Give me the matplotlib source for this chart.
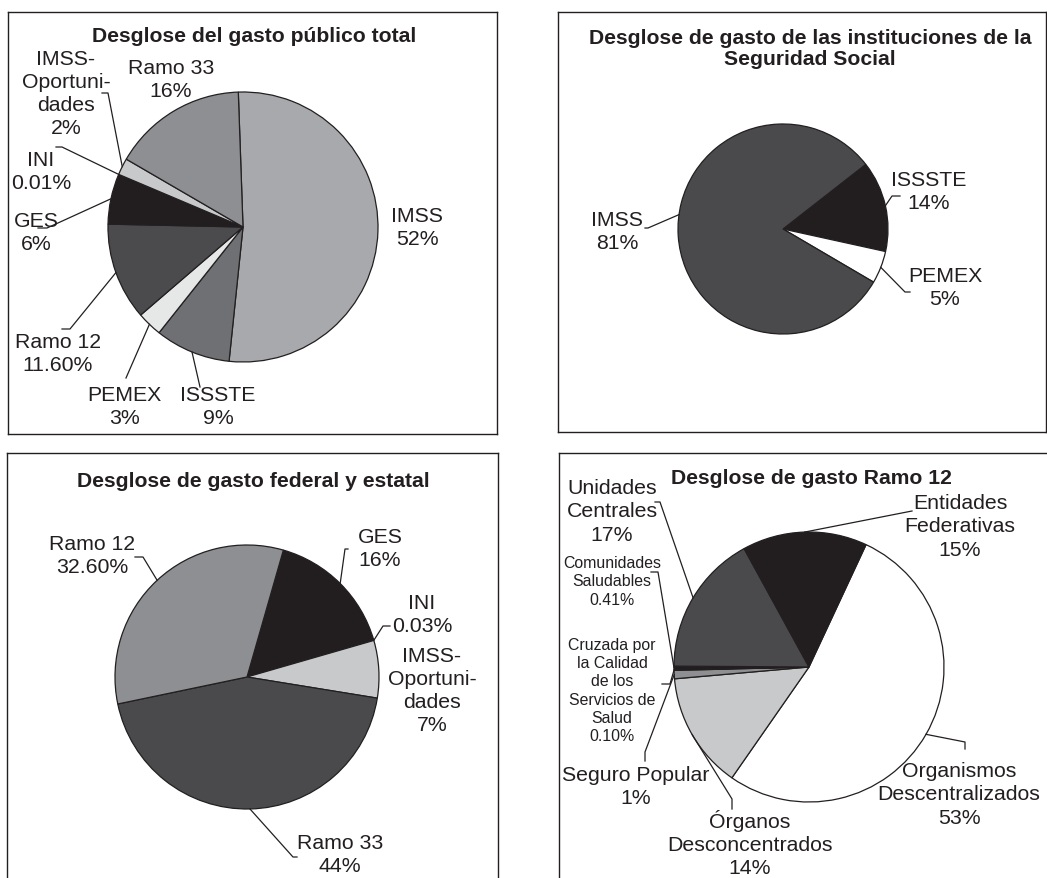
import matplotlib
matplotlib.use("Agg")
import matplotlib.pyplot as plt
import numpy as np

plt.rcParams['font.family'] = ['Liberation Sans', 'DejaVu Sans']

W, H = 1047, 879

# ---------------- data ----------------
# Desglose del gasto publico total
tot_names = ["IMSS", "ISSSTE", "PEMEX", "Ramo 12", "GES", "INI", "IMSS-\nOportuni-\ndades", "Ramo 33"]
tot_vals = [52, 9, 3, 11.6, 6, 0.01, 2, 16]
tot_txt = ["52%", "9%", "3%", "11.60%", "6%", "0.01%", "2%", "16%"]
tot_colors = ["#a8a9ac", "#6f7073", "#e6e7e7", "#4b4b4e", "#221e1f", "white", "#c8c9cb", "#8e8f92"]

# Seguridad social
ss_names = ["ISSSTE", "PEMEX", "IMSS"]
ss_vals = [14, 5, 81]
ss_txt = ["14%", "5%", "81%"]
ss_colors = ["#221e1f", "white", "#4a4a4d"]

# federal y estatal
fe_names = ["GES", "INI", "IMSS-\nOportuni-\ndades", "Ramo 33", "Ramo 12"]
fe_vals = [16, 0.03, 7, 44, 32.6]
fe_txt = ["16%", "0.03%", "7%", "44%", "32.60%"]
fe_colors = ["#221e1f", "white", "#c8c9cb", "#4a4a4d", "#8e8f92"]

# Ramo 12
r12_names = ["Organismos\nDescentralizados", "Órganos\nDesconcentrados", "Seguro Popular",
             "Cruzada por\nla Calidad\nde los\nServicios de\nSalud", "Comunidades\nSaludables",
             "Unidades\nCentrales", "Entidades\nFederativas"]
r12_vals = [53, 14, 1, 0.10, 0.41, 17, 15]
r12_txt = ["53%", "14%", "1%", "0.10%", "0.41%", "17%", "15%"]
r12_colors = ["white", "#c8c9cb", "#8e8f92", "#6f7073", "#221e1f", "#4a4a4d", "#221e1f"]

fig = plt.figure(figsize=(W / 100, H / 100), dpi=100)


def panel(x0, y0, x1, y1):
    ax = fig.add_axes([x0 / W, 1 - y1 / H, (x1 - x0) / W, (y1 - y0) / H])
    ax.lims = (x0, x1, H - y1, H - y0)
    return ax


def finish(ax):
    x0, x1, y0, y1 = ax.lims
    ax.set_xlim(x0, x1)
    ax.set_ylim(y0, y1)
    ax.set_aspect("auto")
    ax.set_xticks([])
    ax.set_yticks([])
    ax.set_frame_on(True)
    for s in ax.spines.values():
        s.set_linewidth(1.0)
        s.set_color("#231f20")


def draw_pie(ax, vals, colors, cx, cy, r, start):
    wedges, _ = ax.pie(vals, colors=colors, startangle=start, counterclock=False,
                       center=(cx, H - cy), radius=r, frame=True,
                       wedgeprops=dict(edgecolor="#231f20", linewidth=0.9))
    return wedges


def label(ax, x, y, s, size=15.3, w=None, pts=None, f=0.5):
    ax.text(x, H - y, s, ha="center", va="center", fontsize=size, color="#231f20",
            linespacing=1.28)
    if w is not None and pts:
        a = np.deg2rad(w.theta1 + f * (w.theta2 - w.theta1))
        xs = [w.center[0] + w.r * np.cos(a)] + [p[0] for p in pts]
        ys = [w.center[1] + w.r * np.sin(a)] + [H - p[1] for p in pts]
        ax.plot(xs, ys, color="#231f20", lw=0.9)


def title(ax, x, y, s):
    ax.text(x, H - y, s, ha="center", va="center", fontsize=15.2, fontweight="bold",
            color="#231f20", linespacing=1.1)


# ---------- top left ----------
ax = panel(8, 13, 497, 435)
w = draw_pie(ax, tot_vals, tot_colors, 243, 228, 135, 92)
title(ax, 254, 36, "Desglose del gasto público total")
lay = [((417, 228), None), ((218, 407), [(200, 388)]), ((124, 407), [(126, 379)]),
       ((58, 354), [(70, 330), (62, 330)]), ((36, 233), [(47, 229), (38, 229)]),
       ((41, 172), [(62, 148), (56, 148)]), ((66, 94), [(108, 94), (102, 94)]),
       ((171, 80), None)]
for i, ((x, y), pts) in enumerate(lay):
    label(ax, x, y, tot_names[i] + "\n" + tot_txt[i], w=w[i], pts=pts)
finish(ax)

# ---------- top right ----------
ax = panel(558, 13, 1046, 433)
w = draw_pie(ax, ss_vals, ss_colors, 783, 230, 105, 38)
title(ax, 810, 49, "Desglose de gasto de las instituciones de la\nSeguridad Social")
lay = [((929, 192), [(892, 197), (900, 197)], 0.5),
       ((945, 288), [(905, 293), (910, 293)], 0.5),
       ((617, 232), [(648, 229), (645, 229)], 0.46)]
for i, ((x, y), pts, f) in enumerate(lay):
    label(ax, x, y, ss_names[i] + "\n" + ss_txt[i], w=w[i], pts=pts, f=f)
finish(ax)

# ---------- bottom left ----------
ax = panel(7, 454, 498, 900)
w = draw_pie(ax, fe_vals, fe_colors, 247, 678, 132, 74)
title(ax, 253, 482, "Desglose de gasto federal y estatal")
lay = [((380, 549), [(345, 550), (348, 550)]), ((422, 615), [(383, 627), (390, 627)]),
       ((432, 691), None), ((340, 855), [(293, 858), (297, 858)]),
       ((92, 556), [(143, 558), (135, 558)])]
for i, ((x, y), pts) in enumerate(lay):
    label(ax, x, y, fe_names[i] + "\n" + fe_txt[i], w=w[i], pts=pts)
finish(ax)

# ---------- bottom right ----------
ax = panel(559, 454, 1060, 900)
w = draw_pie(ax, r12_vals, r12_colors, 809, 668, 135, 65)
title(ax, 811, 479, "Desglose de gasto Ramo 12")
lay = [((959, 795), [(965, 743), (965, 750)], 15.3),
       ((750, 844), [(732, 800), (732, 810)], 15.3),
       ((636, 787), [(645, 753), (645, 762)], 15.3),
       ((612, 691), [(670, 685), (662, 685)], 11.4),
       ((612, 582), [(658, 573), (651, 573)], 11.4),
       ((612, 512), [(660, 503), (655, 503)], 15.3),
       ((960, 527), [(912, 512)], 15.3)]
for i, ((x, y), pts, sz) in enumerate(lay):
    label(ax, x, y, r12_names[i] + "\n" + r12_txt[i], size=sz, w=w[i], pts=pts)
finish(ax)

fig.savefig("out.png", dpi=100)
